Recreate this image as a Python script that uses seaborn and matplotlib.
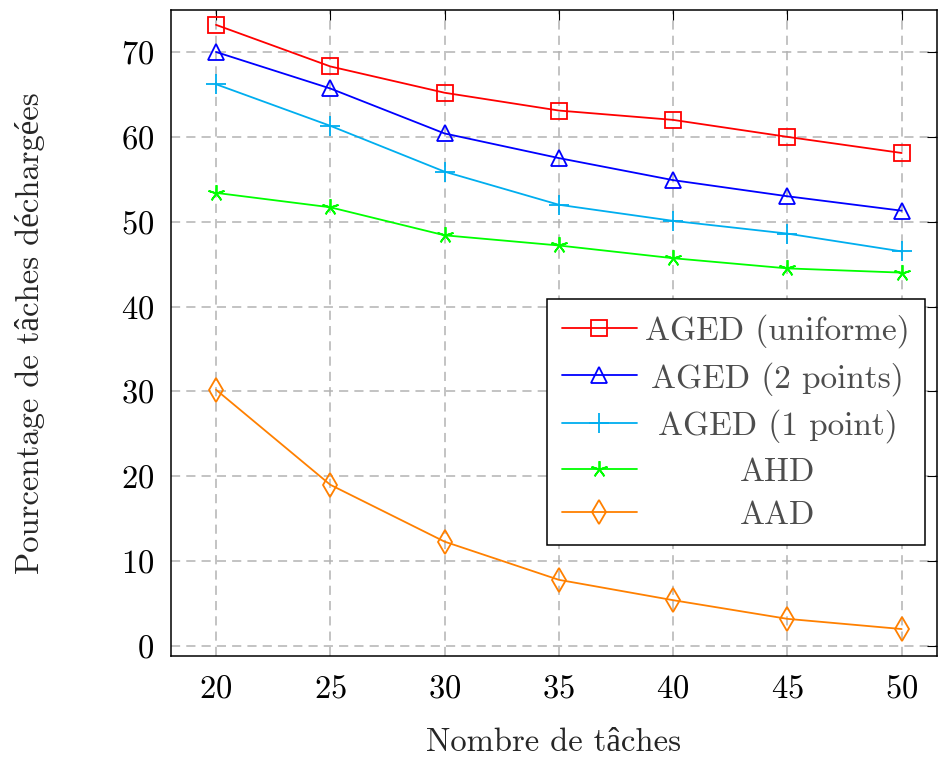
import matplotlib
matplotlib.use("Agg")
import matplotlib.pyplot as plt
import seaborn as sns
import numpy as np

tasks = [20, 25, 30, 35, 40, 45, 50]
aged_uniforme = [73.2, 68.3, 65.2, 63.1, 62.0, 60.0, 58.1]
aged_2points = [70.0, 65.7, 60.4, 57.5, 54.9, 53.0, 51.3]
aged_1point = [66.2, 61.3, 55.9, 52.0, 50.1, 48.6, 46.5]
ahd = [53.4, 51.7, 48.4, 47.2, 45.7, 44.5, 44.0]
aad = [30.2, 19.0, 12.3, 7.8, 5.4, 3.2, 2.0]

labels = ["AGED (uniforme)", "AGED (2 points)", "AGED (1 point)", "AHD", "AAD"]
colors = ["#ff0000", "#0000ff", "#00aeef", "#00ff00", "#ff8000"]
markers = ["s", "^", "+", (5, 2, 0), "d"]
msizes = [12, 11, 14, 12, 12]
series = [aged_uniforme, aged_2points, aged_1point, ahd, aad]

sns.set_style("white")
plt.rcParams['font.family'] = ['cmr10', 'Liberation Serif']
plt.rcParams['axes.formatter.use_mathtext'] = True
plt.rcParams['mathtext.fontset'] = 'cm'

fs = 23.5
fig = plt.figure(figsize=(9.38, 7.57), dpi=100)
ax = fig.add_axes([0.1823, 0.1334, 0.8167, 0.8534])

for vals, lab, c, m, ms in zip(series, labels, colors, markers, msizes):
    sns.lineplot(x=tasks, y=vals, ax=ax, color=c, marker=m, markersize=ms,
                 markerfacecolor='none', markeredgecolor=c, markeredgewidth=1.3,
                 linewidth=1.3, label=lab)

ax.set_xlim(18.03, 51.55)
ax.set_ylim(-1.18, 74.95)
ax.set_xticks(tasks)
ax.set_yticks(np.arange(0, 71, 10))
ax.grid(True, color='#b3b3b3', linestyle=(0, (6, 4)), linewidth=1.1)
for s in ax.spines.values():
    s.set_color('black')
    s.set_linewidth(1.1)
ax.tick_params(direction='in', length=7, width=0.8, top=True, right=True,
               labelsize=fs, colors='black')
ax.tick_params(axis='y', pad=12)
ax.tick_params(axis='x', pad=13)
ax.set_xlabel("Nombre de tâches", fontsize=fs)
ax.set_ylabel("Pourcentage de tâches déchargées", fontsize=fs)
ax.yaxis.set_label_coords(-0.165, 0.5)
ax.xaxis.set_label_coords(0.5, -0.111)

leg = ax.legend(loc='upper right', bbox_to_anchor=(0.984, 0.553), borderaxespad=0,
                fontsize=24, frameon=True, fancybox=False, framealpha=1,
                edgecolor='black', handlelength=2.25, labelspacing=0.42,
                borderpad=0.45, handletextpad=0.25)
leg.get_frame().set_linewidth(1.1)
for t in leg.get_texts():
    t.set_color('#4d4d4d')

# center the labels within the legend column
fig.canvas.draw()
r = fig.canvas.get_renderer()
texts = leg.get_texts()
widths = [t.get_window_extent(r).width for t in texts]
W = max(widths)
for t, w in zip(texts, widths):
    t.set_x((W - w) / 2)

fig.savefig("out.png", dpi=100)
